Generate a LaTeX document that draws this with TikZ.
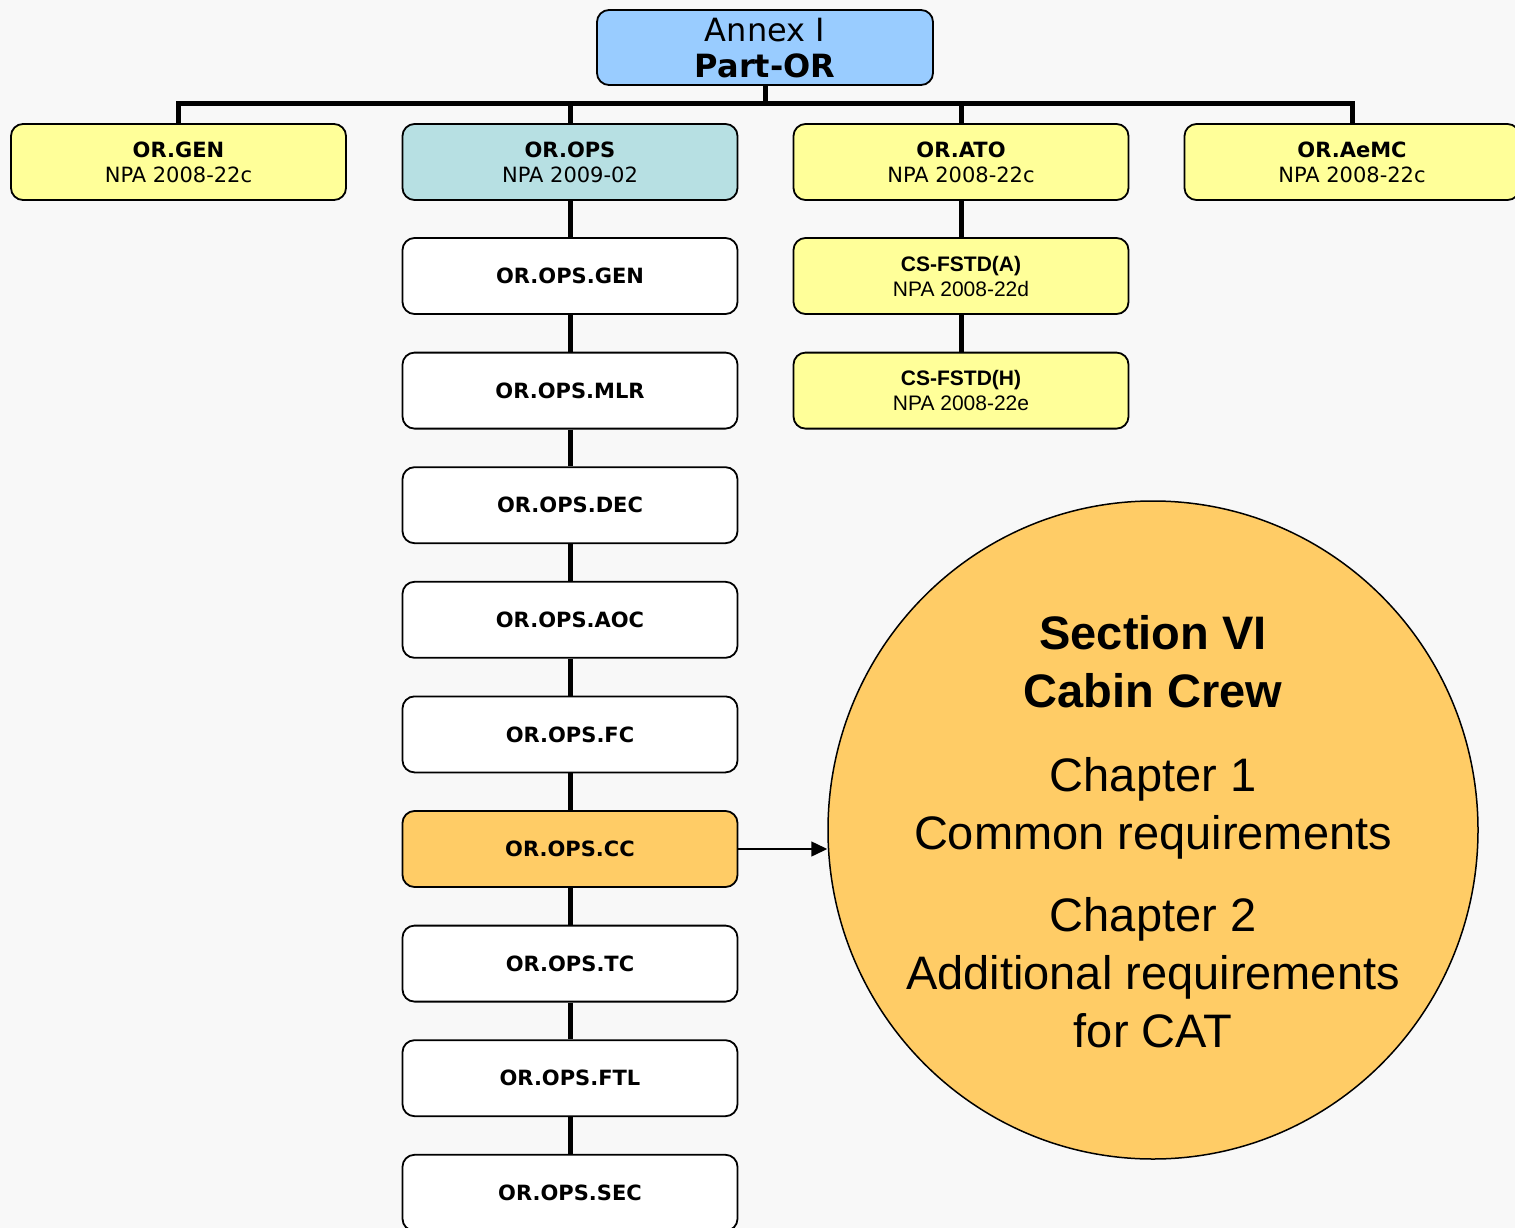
\documentclass[tikz,border=0pt]{standalone}
\usepackage{fontspec}
\setmainfont{DejaVu Sans}
\newfontfamily\arialfont{Liberation Sans}
\usetikzlibrary{arrows.meta, shapes.geometric}

\definecolor{pagegray}{HTML}{F8F8F8}
\definecolor{annexblue}{HTML}{99CCFF}
\definecolor{partyellow}{HTML}{FFFF99}
\definecolor{opsteal}{HTML}{B7E0E3}
\definecolor{ccorange}{HTML}{FFCC66}

\tikzset{
    partbox/.style={draw=black, line width=1.8pt, rounded corners=12pt, minimum width=335pt, minimum height=76pt, inner sep=0pt, align=center, font=\fontsize{21}{25}\selectfont},
    link/.style={black, line width=5pt},
}

\begin{document}
\begin{tikzpicture}[x=1pt, y=-1pt]

    % page
    \useasboundingbox (0,0) rectangle (1515,1228);
    \fill[pagegray] (0,0) rectangle (1515,1228);

    % Annex I
    \node[partbox, fill=annexblue, minimum width=336pt, minimum height=75pt, text depth=-5pt, font=\fontsize{32}{36}\selectfont] (annex) at (765,47.5) {Annex I\\\textbf{Part-OR}};

    % premiere rangee
    \node[partbox, fill=partyellow] (orGEN) at (178.5,162) {\textbf{OR.GEN}\\NPA 2008-22c};
    \node[partbox, fill=opsteal] (orOPS) at (570,162) {\textbf{OR.OPS}\\NPA 2009-02};
    \node[partbox, fill=partyellow] (orATO) at (961,162) {\textbf{OR.ATO}\\NPA 2008-22c};
    \node[partbox, fill=partyellow] (orAeMC) at (1352,162) {\textbf{OR.AeMC}\\NPA 2008-22c};

    % barre horizontale
    \coordinate (bus) at (765,104);
    \draw[link] (annex) -- (bus);
    \draw[link] (orGEN) |- (bus) -| (orAeMC);
    \draw[link] (orOPS) -- (orOPS |- bus);
    \draw[link] (orATO) -- (orATO |- bus);

    % colonne OR.OPS
    \foreach \name/\col [count=\i, remember=\name as \prev (initially OPS)] in {GEN/white, MLR/white, DEC/white, AOC/white, FC/white, CC/ccorange, TC/white, FTL/white, SEC/white} {
        \node[partbox, fill=\col] (or\name) at (570,{276+(\i-1)*114.6}) {\textbf{OR.OPS.\name}};
        \draw[link] (or\prev) -- (or\name);
    }

    % colonne OR.ATO
    \node[partbox, fill=partyellow, font=\arialfont\fontsize{21}{25}\selectfont] (fstdA) at (961,276) {\textbf{CS-FSTD(A)}\\NPA 2008-22d};
    \node[partbox, fill=partyellow, font=\arialfont\fontsize{21}{25}\selectfont] (fstdH) at (961,390.6) {\textbf{CS-FSTD(H)}\\NPA 2008-22e};
    \draw[link] (orATO) -- (fstdA);
    \draw[link] (fstdA) -- (fstdH);

    % Section VI
    \node[ellipse, draw=black, line width=1.5pt, fill=ccorange, minimum width=650pt, minimum height=658pt, inner sep=0pt] (cabin) at (1153,830) {};
    \node[align=center, inner sep=0pt, font=\arialfont\fontsize{47}{58}\selectfont] (cabintext) at (1153,831.5) {\textbf{Section VI}\\\textbf{Cabin Crew}\\[26pt]Chapter 1\\Common requirements\\[24pt]Chapter 2\\Additional requirements\\for CAT};

    \draw[line width=1.5pt, -{Triangle[length=16pt, width=15pt]}] (orCC.east) -- (cabin.west |- orCC.east);

\end{tikzpicture}
\end{document}
